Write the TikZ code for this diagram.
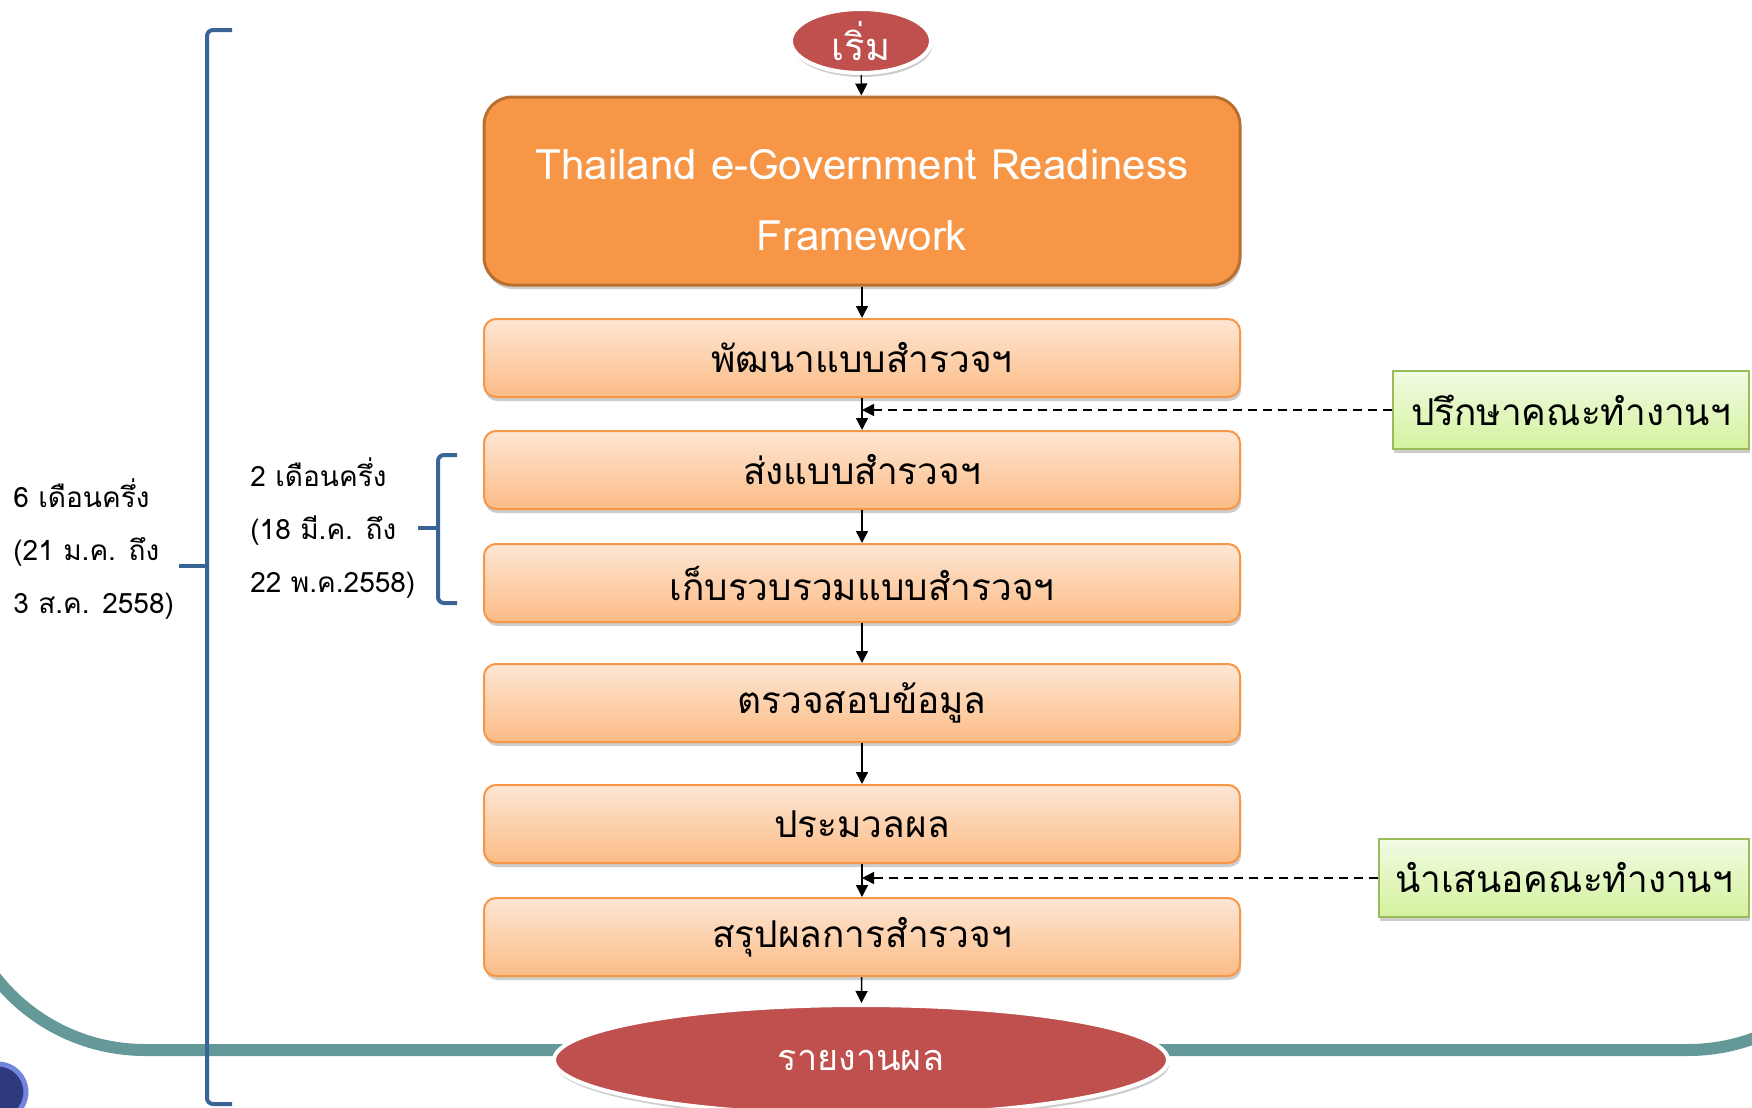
\documentclass[tikz,border=0pt]{standalone}
\usepackage{fontspec}
\setmainfont{Loma}[Script=Thai]
\usetikzlibrary{arrows.meta,shapes.geometric,shadows}

\definecolor{termred}{HTML}{C0504D}
\definecolor{frameorange}{HTML}{F79646}
\definecolor{frameedge}{HTML}{B8702F}
\definecolor{peachtop}{HTML}{FEE6D4}
\definecolor{peachbot}{HTML}{FBBC86}
\definecolor{peachedge}{HTML}{F79646}
\definecolor{greentop}{HTML}{F1FBE3}
\definecolor{greenbot}{HTML}{D4F29E}
\definecolor{greenedge}{HTML}{9BBB59}
\definecolor{bracketblue}{HTML}{3A6496}
\definecolor{tealline}{HTML}{659999}
\definecolor{balldark}{HTML}{2E3A7C}
\definecolor{ballring}{HTML}{7285DD}

\begin{document}
\begin{tikzpicture}[x=0.5pt,y=-0.5pt,
  softshadow/.style={drop shadow={shadow xshift=0.6pt,shadow yshift=-2pt,opacity=0.28,fill=black!70}},
  terminal/.style={ellipse, fill=termred, draw=white, line width=2pt, inner sep=0pt,
    text=white, softshadow},
  framebox/.style={rectangle, rounded corners=14pt, fill=frameorange, draw=frameedge,
    line width=1.5pt, minimum width=378pt, minimum height=94pt, softshadow},
  frametext/.style={align=center, inner sep=0pt, text=white,
    font=\fontsize{21}{35.5}\selectfont},
  stepbox/.style={rectangle, rounded corners=6pt, draw=peachedge, line width=1pt,
    top color=peachtop, bottom color=peachbot, minimum width=378pt, minimum height=39pt,
    font=\fontsize{18.5}{21}\selectfont, softshadow},
  notebox/.style={rectangle, draw=greenedge, line width=1pt,
    top color=greentop, bottom color=greenbot, minimum height=39pt,
    font=\fontsize{18.5}{21}\selectfont, softshadow},
  flow/.style={-{Triangle[length=6pt,width=6pt]}, line width=0.7pt, black},
  dashflow/.style={-{Triangle[length=6pt,width=6pt]}, line width=0.8pt, black,
    dash pattern=on 4.5pt off 3pt},
  brace/.style={draw=bracketblue, line width=2pt, rounded corners=3pt},
  sidetext/.style={align=left, anchor=west, inner sep=0pt,
    font=\fontsize{14}{26.5}\selectfont}
]
\useasboundingbox (0,0) rectangle (1752,1108);

% bottom band of the slide
\draw[tealline, line width=6pt]
  (-45,860) .. controls (-45,965) and (40,1050) .. (145,1050)
  -- (1688,1050) .. controls (1793,1050) and (1878,965) .. (1878,860);
\fill[balldark, draw=ballring, line width=2.5pt] (-2,1092) circle[radius=14pt];

% process chain
\node[terminal, minimum width=70pt, minimum height=32pt, font=\fontsize{19}{22}\selectfont]
  (start) at (861,41) {เริ่ม};
\node[framebox] (frame) at (862,191) {};
\node[frametext] (frametitle) at (862,200) {Thailand e-Government Readiness\\Framework};
\node[stepbox] (s1) at (862,358) {พัฒนาแบบสำรวจฯ};
\node[stepbox] (s2) at (862,470) {ส่งแบบสำรวจฯ};
\node[stepbox] (s3) at (862,583) {เก็บรวบรวมแบบสำรวจฯ};
\node[stepbox] (s4) at (862,703) {ตรวจสอบข้อมูล};
\node[stepbox] (s5) at (862,824) {ประมวลผล};
\node[stepbox] (s6) at (862,937) {สรุปผลการสำรวจฯ};
\node[terminal, minimum width=307pt, minimum height=55pt, font=\fontsize{18}{22}\selectfont]
  (finish) at (861,1060) {รายงานผล};

% working-group checkpoints
\node[notebox, minimum width=178pt] (g1) at (1571,410) {ปรึกษาคณะทำงานฯ};
\node[notebox, minimum width=185pt] (g2) at (1564,878) {นำเสนอคณะทำงานฯ};

\draw[flow] (start) -- (frame);
\draw[flow] (frame) -- (s1);
\draw[flow] (s1) -- (s2);
\draw[flow] (s2) -- (s3);
\draw[flow] (s3) -- (s4);
\draw[flow] (s4) -- (s5);
\draw[flow] (s5) -- (s6);
\draw[flow] (s6) -- (finish);
\draw[dashflow] (g1.west) -- (g1.west -| s1.south);
\draw[dashflow] (g2.west) -- (g2.west -| s5.south);

% time spans
\draw[brace] (232,30) -- (207,30) -- (207,1104) -- (232,1104);
\draw[brace] (207,566) -- (179,566);
\draw[brace] (457,455) -- (438,455) -- (438,603) -- (457,603);
\draw[brace] (438,528) -- (418,528);

\node[sidetext] (span6) at (13,549) {6 เดือนครึ่ง\\(21 ม.ค. ถึง\\3 ส.ค. 2558)};
\node[sidetext] (span2) at (250,528) {2 เดือนครึ่ง\\(18 มี.ค. ถึง\\22 พ.ค.2558)};
\end{tikzpicture}
\end{document}
